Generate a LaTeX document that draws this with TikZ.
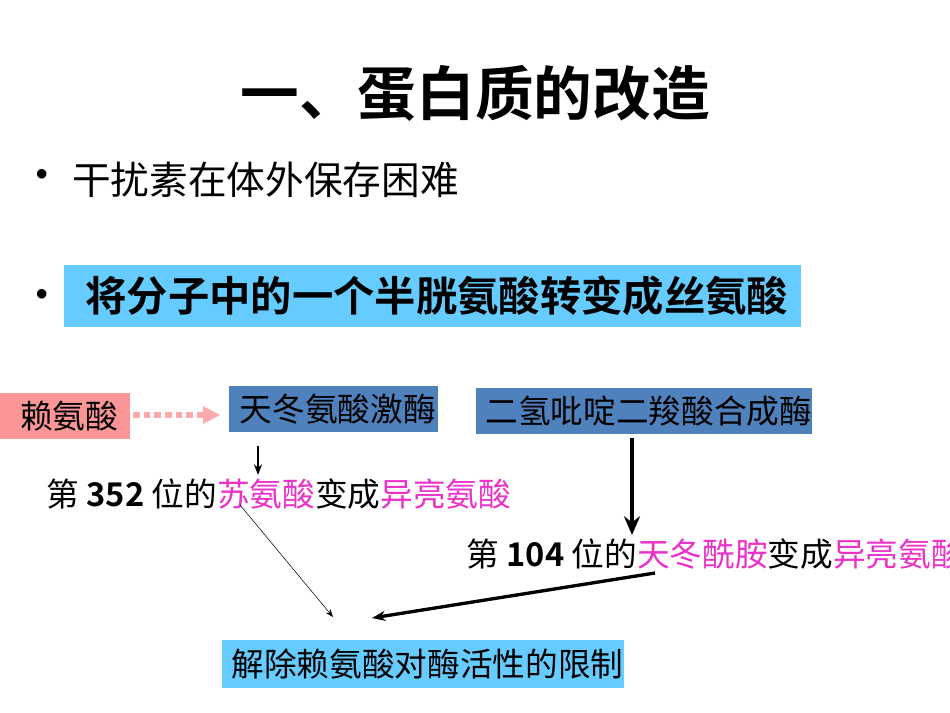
\documentclass[tikz,border=0pt]{standalone}
\usepackage{fontspec}
\setmainfont{Noto Sans CJK SC}[BoldFont={Noto Sans CJK SC Bold}]
\usetikzlibrary{arrows.meta,positioning}
\definecolor{boxblue}{RGB}{79,129,189}
\definecolor{skyblue}{RGB}{102,204,255}
\definecolor{salmon}{RGB}{250,150,150}
\definecolor{magenta2}{RGB}{235,50,200}
\newcommand{\mg}[1]{\textcolor{magenta2}{#1}}

\begin{document}
\begin{tikzpicture}[x=0.75pt,y=-0.75pt,
                    box/.style={inner sep=0pt,anchor=west,text=black}]
  \useasboundingbox (0,0) rectangle (950,713);

  \node (title) at (475,93) {\fontsize{44}{48}\selectfont\bfseries 一、蛋白质的改造};
  \node (d1) at (42,180) {\fontsize{34}{36}\selectfont •};
  \node[anchor=west,inner sep=0pt] (b1) at (72,180) {\fontsize{29}{32}\selectfont 干扰素在体外保存困难};
  \node (d2) at (42,300) {\fontsize{34}{36}\selectfont •};
  \node[box,fill=skyblue,minimum width=552.75pt,minimum height=46.5pt] (b2) at (64,296)
    {\fontsize{31}{34}\selectfont\bfseries\hspace{6pt}将分子中的一个半胱氨酸转变成丝氨酸};

  \node[box,fill=salmon,minimum width=97.5pt,minimum height=35pt] (lys) at (0,416)
    {\fontsize{24.5}{26}\selectfont\hspace{6pt}赖氨酸};
  \node[box,fill=boxblue,minimum width=156.75pt,minimum height=34.5pt] (ak) at (229,409)
    {\fontsize{24.5}{26}\selectfont\hspace{6pt}天冬氨酸激酶};
  \node[box,fill=boxblue,minimum width=251.25pt,minimum height=35pt] (dhdps) at (476,411)
    {\fontsize{24.5}{26}\selectfont\hspace{7pt}二氢吡啶二羧酸合成酶};
  \node[anchor=west] (m1) at (42,494)
    {\fontsize{24.5}{26}\selectfont 第 \textbf{352} 位的\mg{苏氨酸}变成\mg{异亮氨酸}};
  \node[anchor=west] (m2) at (462,554)
    {\fontsize{24.5}{26}\selectfont 第 \textbf{104} 位的\mg{天冬酰胺}变成\mg{异亮氨酸}};
  \node[box,fill=skyblue,minimum width=298.5pt,minimum height=36pt] (res) at (222,664)
    {\fontsize{24.5}{26}\selectfont\hspace{7pt}解除赖氨酸对酶活性的限制};

  \coordinate (p1) at (240,505);
  \coordinate (p2) at (333,617);
  \coordinate (q1) at (655,573);
  \coordinate (q2) at (372,618);

  \draw[salmon!80,line width=4pt,dash pattern=on 5pt off 3pt] (133,415) -- (203,415);
  \fill[salmon!80] (203,406) -- (220,415) -- (203,424) -- cycle;
  \draw[-{Stealth[length=8pt]},line width=1.5pt] (258,446) -- (258,475);
  \draw[-{Stealth[length=14pt,width=12pt]},line width=3.5pt] (632,438) -- (632,535);
  \draw[-{Stealth[length=6pt]},line width=0.4pt] (p1) -- (p2);
  \draw[-{Stealth[length=10pt]},line width=2.5pt] (q1) -- (q2);
\end{tikzpicture}
\end{document}
